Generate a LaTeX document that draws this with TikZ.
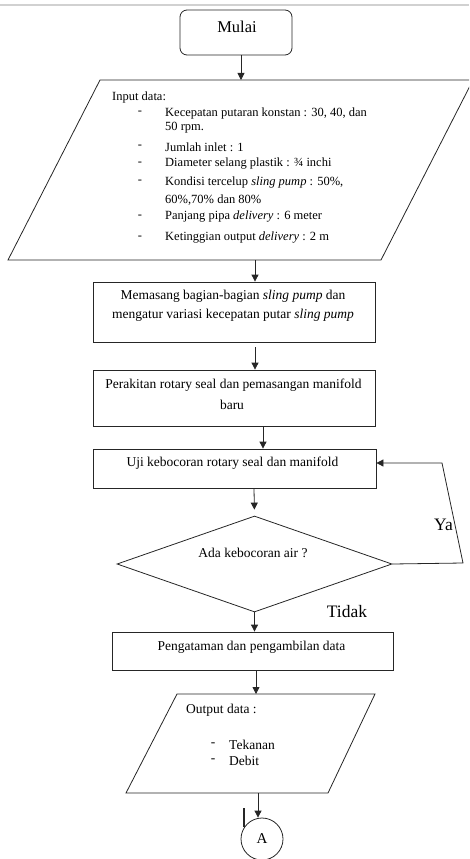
\documentclass[tikz,border=0pt]{standalone}
\usepackage{fontspec}
\setmainfont{Liberation Serif}
\usetikzlibrary{arrows.meta,shapes.geometric}
\begin{document}
\begin{tikzpicture}[x=1pt,y=-1pt,
  line/.style={draw=black!85,line width=0.8pt},
  arr/.style={line,-{Triangle[length=7pt,width=7pt]}},
  box/.style={line,rectangle,inner sep=0pt},
  lst/.style={anchor=west,inner sep=0pt,font=\fontsize{12.5}{14}\selectfont},
  dsh/.style={inner sep=0pt,font=\fontsize{12.5}{14}\selectfont},
  txt/.style={inner sep=0pt,font=\fontsize{13.5}{16}\selectfont},
  big/.style={inner sep=0pt,font=\fontsize{17.5}{20}\selectfont}]
\useasboundingbox (0,0) rectangle (469,859);
\clip (0,0) rectangle (469,859);
\draw[black!18,line width=1.5pt] (0,5) -- (469,5);

% start
\node[box,rounded corners=7pt,minimum width=112pt,minimum height=45pt] (mulai) at (236,32.5) {};
\node[inner sep=0pt,font=\fontsize{16.5}{18}\selectfont] (mulaiT) at (237,27) {Mulai};

% input parallelogram
\draw[line] (100,80) -- (473,80) -- (381,260) -- (8,260) -- cycle;
\coordinate (inTop) at (241,80);
\coordinate (inBot) at (255,260);
\node[lst] (in0) at (112,97) {Input data:};
\node[dsh] (d1) at (140,113) {-};
\node[lst] (in1) at (165,113) {Kecepatan putaran konstan : 30, 40, dan};
\node[lst] (in1b) at (165,128) {50 rpm.};
\node[dsh] (d2) at (140,147) {-};
\node[lst] (in2) at (165,147) {Jumlah inlet : 1};
\node[dsh] (d3) at (140,164) {-};
\node[lst] (in3) at (165,164) {Diameter selang plastik : ¾ inchi};
\node[dsh] (d4) at (140,182) {-};
\node[lst] (in4) at (165,182) {Kondisi tercelup \textit{sling pump} : 50\%,};
\node[lst] (in4b) at (165,200) {60\%,70\% dan 80\%};
\node[dsh] (d5) at (140,217) {-};
\node[lst] (in5) at (165,217) {Panjang pipa \textit{delivery} : 6 meter};
\node[dsh] (d6) at (140,238) {-};
\node[lst] (in6) at (165,238) {Ketinggian output \textit{delivery} : 2 m};

% boxes
\node[box,minimum width=282pt,minimum height=60pt] (b1) at (234,312) {};
\node[txt] (b1a) at (233,296) {Memasang bagian-bagian \textit{sling pump} dan};
\node[txt] (b1b) at (233,315) {mengatur variasi kecepatan putar \textit{sling pump}};

\node[box,minimum width=282pt,minimum height=56pt] (b2) at (234,398) {};
\node[txt] (b2a) at (233.5,385) {Perakitan rotary seal dan pemasangan manifold};
\node[txt] (b2b) at (232,405) {baru};

\node[box,minimum width=283pt,minimum height=39pt] (b3) at (234.5,468.5) {};
\node[txt] (b3a) at (232.5,463) {Uji kebocoran rotary seal dan manifold};

% decision
\node[line,diamond,minimum width=275pt,minimum height=96pt,inner sep=0pt] (dia) at (254.5,564) {};
\node[txt] (diaT) at (253,553) {Ada kebocoran air ?};
\node[big,anchor=east] (ya) at (453,525) {Ya};
\node[big] (tidak) at (347,612) {Tidak};

\node[box,minimum width=281pt,minimum height=38pt] (b4) at (252.5,651) {};
\node[txt] (b4a) at (251.5,647) {Pengataman dan pengambilan data};

% output parallelogram
\draw[line] (177,694) -- (375,694) -- (328,793) -- (126,793) -- cycle;
\coordinate (outT) at (256,694);
\coordinate (outB) at (258,793);
\node[txt,anchor=west] (o0) at (186,710) {Output data :};
\node[txt] (od1) at (213,745) {-};
\node[txt,anchor=west] (o1) at (229,745) {Tekanan};
\node[txt] (od2) at (213,761) {-};
\node[txt,anchor=west] (o2) at (229,761) {Debit};

% connector A
\node[line,circle,minimum size=42pt,inner sep=0pt,font=\fontsize{15}{17}\selectfont] (A) at (262,839) {A};
\draw[black!85,line width=1.4pt] (244,808) -- (244,827);

% arrows
\draw[arr] (mulai.south -| inTop) -- (inTop);
\draw[arr] (inBot) -- (inBot |- b1.north);
\draw[arr] ([xshift=21pt,yshift=-5pt]b1.south) -- ([xshift=21pt]b2.north);
\draw[arr] ([xshift=29pt]b2.south) -- ([xshift=28.5pt]b3.north);
\draw[arr,shorten >=6pt] ([xshift=19.5pt]b3.south) -- (dia.north);
\draw[arr] (dia.south) -- ([xshift=2pt]b4.north);
\draw[arr] ([xshift=3.5pt]b4.south) -- (outT);
\draw[arr] (outB) -- (outB |- A.north);
\draw[arr] (dia.east) -- (463,563) -- (442,463) -- ([yshift=5.5pt]b3.east);
\end{tikzpicture}
\end{document}
